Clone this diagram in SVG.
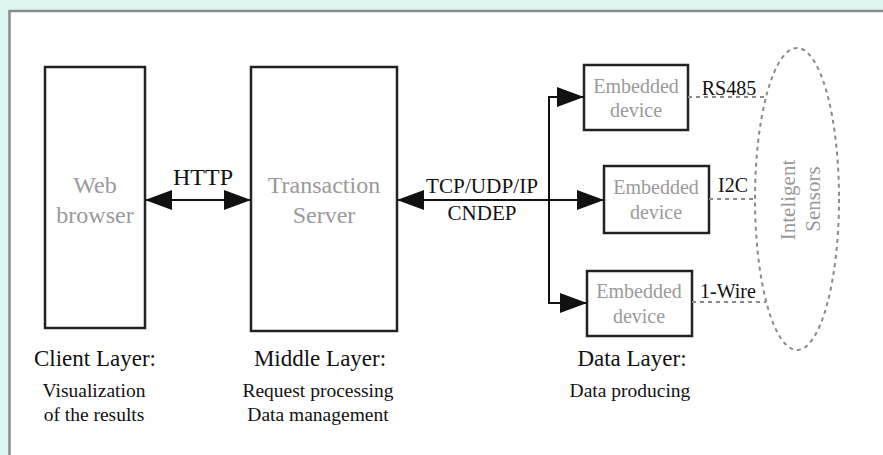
<svg xmlns="http://www.w3.org/2000/svg" width="883" height="455" viewBox="0 0 883 455">
  <style>
    .box { fill: #ffffff; stroke: #222222; stroke-width: 2.5; }
    .inner { font-family: "Liberation Serif", "Times New Roman", serif; fill: #9a9a9a; text-anchor: middle; }
    .lbl { font-family: "Liberation Serif", "Times New Roman", serif; fill: #111111; text-anchor: middle; }
    .wire { fill: none; stroke: #111111; stroke-width: 2; }
    .dash { fill: none; stroke: #8a8a8a; stroke-width: 2; stroke-dasharray: 4 4; }
  </style>
  <defs>
    <marker id="ah" viewBox="0 0 27 20" refX="27" refY="10" markerWidth="27" markerHeight="20" orient="auto-start-reverse" markerUnits="userSpaceOnUse">
      <path d="M0,0 L27,10 L0,20 z" fill="#111111"/>
    </marker>
  </defs>

  <!-- page background and framed panel -->
  <rect x="0" y="0" width="883" height="455" fill="#dcf5f1"/>
  <rect x="9.5" y="11" width="890" height="460" fill="#ffffff" stroke="#8a8a8a" stroke-width="2.5"/>

  <!-- client layer -->
  <g id="web-browser">
    <rect class="box" x="45" y="67" width="100" height="261"/>
    <text class="inner" x="95" y="193" font-size="24">Web</text>
    <text class="inner" x="95" y="223" font-size="24">browser</text>
  </g>

  <!-- middle layer -->
  <g id="transaction-server">
    <rect class="box" x="251" y="67" width="146" height="264"/>
    <text class="inner" x="324" y="193" font-size="24">Transaction</text>
    <text class="inner" x="324" y="223" font-size="24">Server</text>
  </g>

  <!-- data layer devices -->
  <g id="device-1">
    <rect class="box" x="584" y="65" width="104" height="65"/>
    <text class="inner" x="636" y="93" font-size="20">Embedded</text>
    <text class="inner" x="636" y="117" font-size="20">device</text>
  </g>
  <g id="device-2">
    <rect class="box" x="604" y="166" width="105" height="67"/>
    <text class="inner" x="656" y="194" font-size="20">Embedded</text>
    <text class="inner" x="656" y="219" font-size="20">device</text>
  </g>
  <g id="device-3">
    <rect class="box" x="587" y="271" width="105" height="65"/>
    <text class="inner" x="639" y="298" font-size="20">Embedded</text>
    <text class="inner" x="639" y="323" font-size="20">device</text>
  </g>

  <!-- sensor cloud -->
  <g id="sensors">
    <ellipse cx="797" cy="199" rx="42" ry="151" class="dash"/>
    <text class="inner" font-size="21" fill="#a8a8a8" transform="translate(795,200) rotate(-90)">Inteligent</text>
    <text class="inner" font-size="21" fill="#a8a8a8" transform="translate(820,199) rotate(-90)">Sensors</text>
  </g>

  <!-- connectors -->
  <g id="connectors">
    <line class="wire" x1="145" y1="200" x2="251" y2="200" marker-start="url(#ah)" marker-end="url(#ah)"/>
    <line class="wire" x1="397" y1="200" x2="604" y2="200" marker-start="url(#ah)" marker-end="url(#ah)"/>
    <path class="wire" d="M549,200 V97 H584" marker-end="url(#ah)"/>
    <path class="wire" d="M549,200 V303 H587" marker-end="url(#ah)"/>
    <line class="dash" x1="688" y1="97" x2="766" y2="97"/>
    <line class="dash" x1="709" y1="199" x2="755" y2="199"/>
    <line class="dash" x1="692" y1="302" x2="766" y2="302"/>
  </g>

  <!-- connector labels -->
  <g id="connector-labels">
    <text class="lbl" x="203" y="185" font-size="24">HTTP</text>
    <text class="lbl" x="482" y="193" font-size="21" textLength="112" lengthAdjust="spacingAndGlyphs">TCP/UDP/IP</text>
    <text class="lbl" x="482" y="220" font-size="21">CNDEP</text>
    <text class="lbl" x="729" y="95" font-size="20">RS485</text>
    <text class="lbl" x="733" y="192" font-size="20">I2C</text>
    <text class="lbl" x="728" y="298" font-size="20">1-Wire</text>
  </g>

  <!-- layer captions -->
  <g id="captions">
    <text class="lbl" x="95" y="366" font-size="23">Client Layer:</text>
    <text class="lbl" x="94" y="397" font-size="19.5">Visualization</text>
    <text class="lbl" x="94" y="421" font-size="19.5">of the results</text>
    <text class="lbl" x="320" y="366" font-size="23">Middle Layer:</text>
    <text class="lbl" x="318" y="397" font-size="19.5">Request processing</text>
    <text class="lbl" x="318" y="421" font-size="19.5">Data management</text>
    <text class="lbl" x="632" y="366" font-size="23">Data Layer:</text>
    <text class="lbl" x="630" y="397" font-size="19.5">Data producing</text>
  </g>
</svg>
